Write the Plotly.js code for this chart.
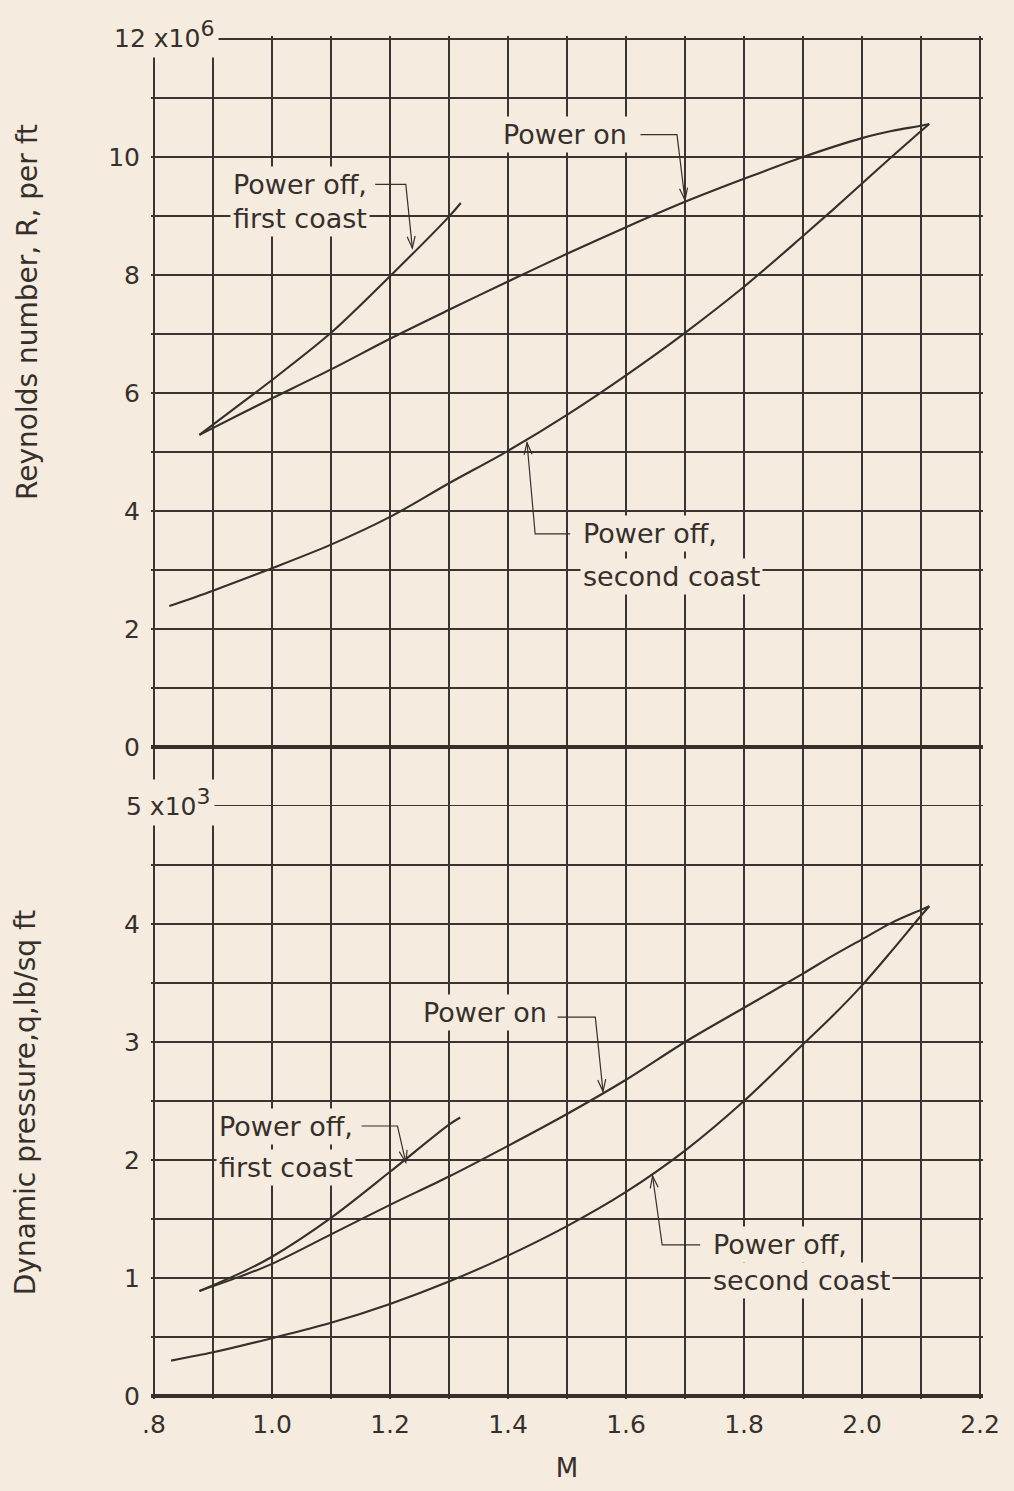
<!DOCTYPE html>
<html>
<head>
<meta charset="utf-8">
<script src="https://cdn.plot.ly/plotly-3.0.1.min.js"></script>
<style>
html, body { margin: 0; padding: 0; background: #f5ebdf; }
#chart { width: 1014px; height: 1491px; }
</style>
</head>
<body>
<div id="chart"></div>
<script>
// ---------------- data ----------------
// Upper panel: Reynolds number per ft (x 10^6) against Mach number M
const M_ON_R = [0.877, 0.95, 1.0, 1.1, 1.2, 1.3, 1.4, 1.5, 1.6, 1.7, 1.8, 1.9, 2.0, 2.05, 2.1, 2.114];
const R_ON   = [5.29, 5.66, 5.91, 6.40, 6.92, 7.41, 7.89, 8.36, 8.81, 9.24, 9.63, 10.0, 10.32, 10.44, 10.53, 10.56];

const M_FIRST_R = [0.877, 0.95, 1.0, 1.1, 1.2, 1.3, 1.32];
const R_FIRST   = [5.29, 5.84, 6.22, 7.02, 7.98, 8.99, 9.22];

const M_SECOND_R = [0.826, 0.9, 1.0, 1.1, 1.2, 1.3, 1.4, 1.5, 1.6, 1.7, 1.8, 1.9, 1.95, 2.0, 2.05, 2.1, 2.114];
const R_SECOND   = [2.39, 2.65, 3.03, 3.43, 3.90, 4.47, 5.02, 5.63, 6.30, 7.02, 7.80, 8.66, 9.10, 9.55, 10.0, 10.44, 10.56];

// Lower panel: dynamic pressure q, lb/sq ft (x 10^3) against M
const M_ON_Q = [0.877, 0.95, 1.0, 1.1, 1.2, 1.3, 1.4, 1.5, 1.6, 1.7, 1.8, 1.9, 1.95, 2.0, 2.05, 2.1, 2.114];
const Q_ON   = [0.89, 1.02, 1.12, 1.37, 1.62, 1.86, 2.12, 2.39, 2.68, 3.0, 3.29, 3.58, 3.73, 3.87, 4.01, 4.12, 4.15];

const M_FIRST_Q = [0.877, 0.95, 1.0, 1.1, 1.2, 1.3, 1.319];
const Q_FIRST   = [0.89, 1.05, 1.18, 1.51, 1.90, 2.30, 2.36];

const M_SECOND_Q = [0.829, 0.9, 1.0, 1.1, 1.2, 1.3, 1.4, 1.5, 1.6, 1.7, 1.8, 1.9, 1.95, 2.0, 2.05, 2.1, 2.114];
const Q_SECOND   = [0.30, 0.37, 0.49, 0.62, 0.78, 0.97, 1.19, 1.44, 1.73, 2.08, 2.50, 2.98, 3.22, 3.48, 3.77, 4.07, 4.15];

// Ticks
const X_LABEL_VALS = [0.8, 1.0, 1.2, 1.4, 1.6, 1.8, 2.0, 2.2];
const X_LABELS = ['.8', '1.0', '1.2', '1.4', '1.6', '1.8', '2.0', '2.2'];
const X_GRID = [0.8, 0.9, 1.0, 1.1, 1.2, 1.3, 1.4, 1.5, 1.6, 1.7, 1.8, 1.9, 2.0, 2.1, 2.2];
const R_LABEL_VALS = [0, 2, 4, 6, 8, 10];
const R_LABELS = ['0', '2', '4', '6', '8', '10'];
const R_GRID = [-1, 0, 1, 2, 3, 4, 5, 6, 7, 8, 9, 10, 11, 12];
const Q_LABEL_VALS = [0, 1, 2, 3, 4];
const Q_LABELS = ['0', '1', '2', '3', '4'];
const Q_GRID = [0, 0.5, 1, 1.5, 2, 2.5, 3, 3.5, 4, 4.5, 5];
const R_TOP_LABEL = '12 x10<sup><span style="font-size:22px">6</span></sup>';
const Q_TOP_LABEL = '5 x10<sup><span style="font-size:22px">3</span></sup>';

const X_TITLE = 'M';
const R_TITLE = 'Reynolds number, R, per ft';
const Q_TITLE = 'Dynamic pressure,q,lb/sq ft';
const LBL_ON = 'Power on';
const LBL_OFF = 'Power off,';
const LBL_FIRST = 'first coast';
const LBL_SECOND = 'second coast';

// ---------------- geometry & styling ----------------
const INK = '#35302b';
const GRID = '#3b3531';
const PAPER = '#f5ebdf';
const FONT = 'DejaVu Sans, Noto Sans, sans-serif';

const W = 1014, H = 1491;
const PX_M = 590;          // px per unit of M  (59 px per 0.1)
const PX_R = 59;           // px per 10^6
const PX_Q = 118;          // px per 10^3
const PAD = 3;             // keep edge grid lines inside the plotting area
const ML = 151, MT = 36, MB = 92;
const PLOT_W = 14 * 59 + 2 * PAD;
const MR = W - ML - PLOT_W;
const PLOT_H = H - MT - MB;
const TOP_H = 13 * PX_R + 2 * PAD;
const BOT_H = 5 * PX_Q + PAD;

function curve(x, y, yaxis) {
  return {
    x: x, y: y, xaxis: 'x', yaxis: yaxis, type: 'scatter', mode: 'lines',
    line: { color: INK, width: 2.1, shape: 'spline', smoothing: 0.9 },
    hoverinfo: 'skip', showlegend: false
  };
}

const traces = [
  curve(M_ON_R, R_ON, 'y'),
  curve(M_FIRST_R, R_FIRST, 'y'),
  curve(M_SECOND_R, R_SECOND, 'y'),
  curve(M_ON_Q, Q_ON, 'y2'),
  curve(M_FIRST_Q, Q_FIRST, 'y2'),
  curve(M_SECOND_Q, Q_SECOND, 'y2')
];

function label(text, x, y, yref, xanchor) {
  return {
    text: text, x: x, y: y, xref: 'x', yref: yref, xanchor: xanchor, yanchor: 'middle',
    align: 'left', showarrow: false, bgcolor: PAPER, borderpad: 2,
    font: { family: FONT, size: 27, color: INK }
  };
}

// bent leader line with an open arrow head; start/bend/tip in axis units
function leader(start, bend, tip, yref) {
  const sy = yref === 'y' ? PX_R : PX_Q;
  const dx = (tip[0] - bend[0]) * PX_M, dy = (tip[1] - bend[1]) * sy;
  const len = Math.hypot(dx, dy), ux = dx / len, uy = dy / len;
  const AL = 12, AW = 4;
  const w1 = [tip[0] + (-ux * AL - uy * AW) / PX_M, tip[1] + (-uy * AL + ux * AW) / sy];
  const w2 = [tip[0] + (-ux * AL + uy * AW) / PX_M, tip[1] + (-uy * AL - ux * AW) / sy];
  const st = { color: INK, width: 1.2 };
  return [
    { type: 'path', xref: 'x', yref: yref, layer: 'above', line: st,
      path: 'M' + start[0] + ',' + start[1] + 'L' + bend[0] + ',' + bend[1] + 'L' + tip[0] + ',' + tip[1] },
    { type: 'path', xref: 'x', yref: yref, layer: 'above', line: st,
      path: 'M' + w1[0] + ',' + w1[1] + 'L' + tip[0] + ',' + tip[1] + 'L' + w2[0] + ',' + w2[1] }
  ];
}

const annotations = [
  // upper panel
  label(LBL_ON, 1.6073, 10.38, 'y', 'right'),
  label(LBL_OFF, 1.1668, 9.537, 'y', 'right'),
  label(LBL_FIRST, 1.1668, 8.95, 'y', 'right'),
  label(LBL_OFF, 1.5223, 3.617, 'y', 'left'),
  label(LBL_SECOND, 1.5223, 2.89, 'y', 'left'),
  // lower panel
  label(LBL_ON, 1.4705, 3.246, 'y2', 'right'),
  label(LBL_OFF, 1.1428, 2.288, 'y2', 'right'),
  label(LBL_FIRST, 1.1428, 1.94, 'y2', 'right'),
  label(LBL_OFF, 1.7424, 1.28, 'y2', 'left'),
  label(LBL_SECOND, 1.7424, 0.98, 'y2', 'left'),
  {
    text: R_TOP_LABEL, xref: 'paper', yref: 'y', x: (112 - ML - PAD) / PLOT_W, y: 12, xanchor: 'left', yanchor: 'middle',
    yshift: 5, showarrow: false, bgcolor: PAPER, borderpad: 4,
    font: { family: FONT, size: 25, color: INK }
  },
  {
    text: Q_TOP_LABEL, xref: 'paper', yref: 'y2', x: (124 - ML - PAD) / PLOT_W, y: 5, xanchor: 'left', yanchor: 'middle',
    yshift: 3, showarrow: false, bgcolor: PAPER, borderpad: 4,
    font: { family: FONT, size: 25, color: INK }
  },
  {
    text: R_TITLE, xref: 'paper', yref: 'paper', x: (27 - ML) / PLOT_W, y: (H - MB - 312) / PLOT_H,
    xanchor: 'center', yanchor: 'middle', textangle: -90, showarrow: false,
    font: { family: FONT, size: 28, color: INK }
  }
];

const shapes = [].concat(
  leader([1.6245, 10.38], [1.6864, 10.38], [1.700, 9.27], 'y'),
  leader([1.1750, 9.537], [1.2268, 9.537], [1.2379, 8.455], 'y'),
  leader([1.5054, 3.611], [1.446, 3.611], [1.4322, 5.16], 'y'),
  leader([1.4840, 3.21], [1.548, 3.21], [1.561, 2.58], 'y2'),
  leader([1.1520, 2.288], [1.2127, 2.288], [1.2268, 1.979], 'y2'),
  leader([1.7258, 1.28], [1.6613, 1.28], [1.645, 1.865], 'y2')
);

const tickFont = { family: FONT, size: 25, color: INK };

const layout = {
  width: W, height: H,
  margin: { l: ML, r: MR, t: MT, b: MB, pad: 0 },
  paper_bgcolor: PAPER, plot_bgcolor: PAPER,
  font: { family: FONT, size: 25, color: INK },
  showlegend: false,
  xaxis: {
    range: [0.8 - PAD / PX_M, 2.2 + PAD / PX_M], anchor: 'y2',
    tickmode: 'array', tickvals: X_LABEL_VALS, ticktext: X_LABELS,
    ticks: '', ticklabelstandoff: 8, zeroline: false, showline: false,
    showgrid: true, gridcolor: GRID, gridwidth: 2,
    minor: { tickmode: 'array', tickvals: X_GRID, showgrid: true, gridcolor: GRID, gridwidth: 2, ticks: '' },
    tickfont: tickFont,
    title: { text: X_TITLE, standoff: 20, font: { family: FONT, size: 26, color: INK } }
  },
  yaxis: {
    domain: [(PLOT_H - TOP_H) / PLOT_H, 1], range: [-1 - PAD / PX_R, 12 + PAD / PX_R], anchor: 'x',
    tickmode: 'array', tickvals: R_LABEL_VALS, ticktext: R_LABELS,
    ticks: '', ticklabelstandoff: 10, showline: false,
    showgrid: true, gridcolor: GRID, gridwidth: 2,
    minor: { tickmode: 'array', tickvals: R_GRID, showgrid: true, gridcolor: GRID, gridwidth: 2, ticks: '' },
    zeroline: true, zerolinecolor: INK, zerolinewidth: 4,
    tickfont: tickFont
  },
  yaxis2: {
    domain: [0, BOT_H / PLOT_H], range: [-PAD / PX_Q, 5], anchor: 'x',
    tickmode: 'array', tickvals: Q_LABEL_VALS, ticktext: Q_LABELS,
    ticks: '', ticklabelstandoff: 10, showline: false,
    showgrid: true, gridcolor: GRID, gridwidth: 2,
    minor: { tickmode: 'array', tickvals: Q_GRID, showgrid: true, gridcolor: GRID, gridwidth: 2, ticks: '' },
    zeroline: true, zerolinecolor: INK, zerolinewidth: 4,
    tickfont: tickFont,
    title: { text: Q_TITLE, standoff: 80, font: { family: FONT, size: 28, color: INK } }
  },
  annotations: annotations,
  shapes: shapes
};

Plotly.newPlot('chart', traces, layout, { staticPlot: true, displayModeBar: false });
</script>
</body>
</html>
